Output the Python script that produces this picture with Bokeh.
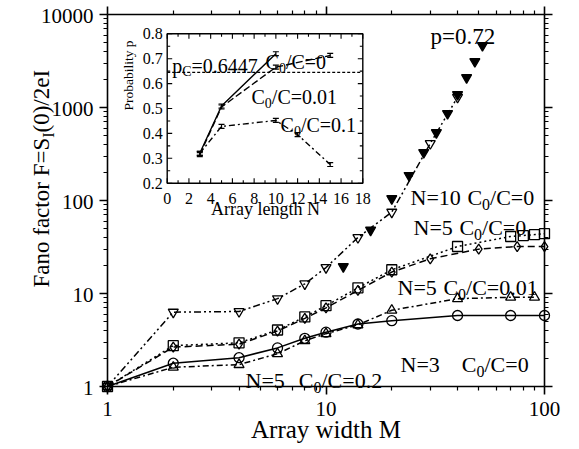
from math import pi
from bokeh.plotting import figure
from bokeh.models import (Range1d, LinearScale, LogAxis, FixedTicker, CustomJSTickFormatter)
from bokeh.core.properties import value
from bokeh.embed import file_html
from bokeh.resources import INLINE

FONT = "Liberation Serif"

# ---------------- data (main panel) ----------------
m_n10 = [1, 2, 4, 6, 8, 10, 14, 20, 30, 40]
f_n10 = [1, 6.3, 6.4, 8.8, 12.7, 19, 40, 75, 410, 1290]

m_p72 = [12, 16, 20, 24, 28, 32, 36, 40, 44, 48, 52]
f_p72 = [19.5, 48, 105, 186, 328, 538, 862, 1380, 2100, 3125, 4640]

m_n5_sq = [1, 2, 4, 6, 8, 10, 14, 20, 40, 70, 80, 90, 100]
f_n5_sq = [1, 2.75, 2.95, 4.05, 5.6, 7.4, 11.5, 18, 32, 41, 42, 43, 44]

m_n5_di = [1, 2, 4, 6, 8, 10, 14, 20, 30, 50, 75, 100]
f_n5_di = [1, 2.65, 2.85, 3.95, 5.4, 7.0, 10.8, 17, 23.6, 30, 32, 32]

m_n3 = [1, 2, 4, 6, 8, 10, 14, 20, 40, 70, 100]
f_n3 = [1, 1.78, 2.04, 2.6, 3.3, 3.84, 4.7, 5.1, 5.8, 5.8, 5.8]

m_n5_c001 = [1, 2, 4, 6, 8, 10, 14, 20, 40, 70, 90]
f_n5_c001 = [1, 1.61, 1.72, 2.25, 3.1, 3.7, 4.6, 6.6, 8.8, 9.1, 9.1]

x_ticks = [1, 10, 100]
y_ticks = [1, 10, 100, 1000, 10000]
x_tick_labels = ["1", "10", "100"]
y_tick_labels = ["1", "10", "100", "1000", "10000"]

# ---------------- data (inset) ----------------
n_c0 = [3, 5, 10]
p_c0 = [0.32, 0.51, 0.72]
n_c001 = [3, 5, 10, 15]
p_c001 = [0.315, 0.506, 0.666, 0.713]
n_c01 = [3, 5, 10, 12, 15]
p_c01 = [0.32, 0.428, 0.452, 0.395, 0.275]
err_c0 = [0.008, 0.008, 0.008]
err_c001 = [0.008, 0.008, 0.008, 0.008]
err_c01 = [0.008, 0.008, 0.008, 0.008, 0.008]
p_crit = 0.6447
inset_x_ticks = [0, 2, 4, 6, 8, 10, 12, 14, 16, 18]
inset_y_ticks = [0.2, 0.3, 0.4, 0.5, 0.6, 0.7, 0.8]

# ---------------- layout (canvas pixels) ----------------
W, H = 578, 448
FL, FR, FT, FB = 107, 544, 14, 386                # main data box
IL, IR, IT, IB = 166.7, 362.3, 33.3, 182.7        # inset box

dx = (FR - FL) / 2.0
dy = (FB - FT) / 4.0
ipu_x = (IR - IL) / 18.0
ipu_y = (IB - IT) / 0.6

p = figure(width=W, height=H, x_axis_type="log", y_axis_type="log",
           x_range=Range1d(10 ** (-FL / dx), 10 ** (2 + (W - FR) / dx)),
           y_range=Range1d(10 ** (-(H - FB) / dy), 10 ** (4 + FT / dy)),
           output_backend="svg", toolbar_location=None, min_border=0)
p.xgrid.visible = False
p.ygrid.visible = False
p.outline_line_color = None
p.background_fill_color = "white"
p.border_fill_color = "white"

p.extra_x_ranges = {"ix": Range1d(0 - IL / ipu_x, 18 + (W - IR) / ipu_x)}
p.extra_y_ranges = {"iy": Range1d(0.2 - (H - IB) / ipu_y, 0.8 + IT / ipu_y)}
p.extra_x_scales = {"ix": LinearScale()}
p.extra_y_scales = {"iy": LinearScale()}

xt = FixedTicker(ticks=x_ticks, minor_ticks=[k * 10 ** d for d in range(2) for k in range(2, 10)])
yt = FixedTicker(ticks=y_ticks, minor_ticks=[k * 10 ** d for d in range(4) for k in range(2, 10)])


def style_axis(ax, ticker, loc, bounds):
    ax.ticker = ticker
    ax.fixed_location = loc
    ax.bounds = bounds
    ax.axis_line_width = 1.6
    ax.axis_line_color = "black"
    ax.major_tick_line_width = 1.6
    ax.minor_tick_line_width = 1.2
    ax.major_tick_out = 8
    ax.major_tick_in = 0
    ax.minor_tick_out = 4
    ax.minor_tick_in = 0
    ax.formatter = CustomJSTickFormatter(code="return ''")
    ax.major_label_standoff = 0


style_axis(p.below[0], xt, y_ticks[0], (x_ticks[0], x_ticks[-1]))
style_axis(p.left[0], yt, x_ticks[0], (y_ticks[0], y_ticks[-1]))
top = LogAxis()
p.add_layout(top, "above")
style_axis(top, xt, y_ticks[-1], (x_ticks[0], x_ticks[-1]))
right = LogAxis()
p.add_layout(right, "right")
style_axis(right, yt, x_ticks[-1], (y_ticks[0], y_ticks[-1]))


def px2main(px, py):
    return 10 ** ((px - FL) / dx), 10 ** ((FB - py) / dy)


# tick labels (serif, as text glyphs at the tick values)
p.text(x=x_ticks, y=[px2main(0, 408.5)[1]] * len(x_ticks), text=x_tick_labels,
       text_font=value(FONT), text_font_size="21px", text_align="center",
       text_baseline="middle", text_color="black")
p.text(x=[px2main(93, 0)[0]] * len(y_ticks), y=y_ticks, text=y_tick_labels,
       text_font=value(FONT), text_font_size="21px", text_align="right",
       text_baseline="middle", text_color="black", y_offset=1)

# ---------------- main series ----------------
def series(M, F, marker, dash, filled=False, line=True):
    if line:
        p.line(M, F, line_color="black", line_width=1.5, line_dash=dash)
    p.scatter(M, F, marker=marker, size=10, line_color="black", line_width=1.3,
              fill_color="black" if filled else None)


series(m_n3, f_n3, "circle", "solid")
series(m_n5_c001, f_n5_c001, "triangle", "6 3 2 3")
series(m_n5_di, f_n5_di, "diamond", "7 4")
series(m_n5_sq, f_n5_sq, "square", "2 3")
series(m_n10, f_n10, "inverted_triangle", "7 3 2 3 2 3")
series(m_p72, f_p72, "inverted_triangle", "solid", filled=True, line=False)

# ---------------- text helpers ----------------
WID = {'N': .722, '=': .564, ' ': .25, 'C': .667, '/': .278, '.': .25, 'p': .5,
       'S': .556, 'I': .333, '(': .333, ')': .333, 'e': .444, 'F': .556, 'a': .444,
       'n': .5, 'o': .5, 'f': .333, 'c': .444, 't': .278, 'r': .333}


def twidth(s, size):
    return sum(WID.get(c, 0.5) for c in s) * size


def put(txt, px, py, size, angle=0.0, align="left", baseline="alphabetic"):
    x, y = px2main(px, py)
    p.text(x=[x], y=[y], text=[txt], text_font=value(FONT), text_font_size=f"{size}px",
           text_align=align, text_baseline=baseline, angle=angle, text_color="black")


def rich(pieces, px, py, angle=0.0):
    # pieces: (text, size, shift) ; text None means a gap of `size` pixels
    pos = 0.0
    for txt, size, sh in pieces:
        if txt is None:
            pos += size
            continue
        if angle == 0:
            put(txt, px + pos, py + sh, size)
        else:
            put(txt, px + sh, py - pos, size, angle=angle)
        pos += twidth(txt, size)


def c0c(n, val, px, py, gap=6.6, size=22, sub=16):
    rich([(n, size, 0), (None, gap, 0), ("C", size, 0), ("0", sub, 7),
          ("/C=" + val, size, 0)], px, py)


rich([("p=0.72", 23, 0)], 430, 36)
c0c("N=10", "0", 410, 197)
c0c("N=5", "0", 413, 227)
c0c("N=5", "0.01", 397, 287)
c0c("N=3", "0", 400, 364, gap=22)
c0c("N=5", "0.2", 245, 380, gap=14)

# axis titles
rich([("Fano factor F=S", 23, 0), ("I", 16, 7), ("(0)/2eI", 23, 0)], 41, 287, angle=pi / 2)
put("Array width M", 325.5, 429, 25, align="center", baseline="middle")

# ---------------- inset ----------------
IK = dict(x_range_name="ix", y_range_name="iy")
p.quad(left=[inset_x_ticks[0]], right=[inset_x_ticks[-1]],
       bottom=[inset_y_ticks[0]], top=[inset_y_ticks[-1]],
       fill_color="white", line_color="black", line_width=1.4, **IK)

tl_y = 5 / ipu_y
tl_x = 5 / ipu_x
x0, x1 = inset_x_ticks[0], inset_x_ticks[-1]
y0, y1 = inset_y_ticks[0], inset_y_ticks[-1]
maj_x = inset_x_ticks
min_x = [v + 1 for v in inset_x_ticks[:-1]]
maj_y = inset_y_ticks
min_y = [v + 0.05 for v in inset_y_ticks[:-1]]
for xs, ln in ((maj_x, tl_y), (min_x, tl_y * 0.6)):
    p.segment(x0=xs, y0=[y0] * len(xs), x1=xs, y1=[y0 + ln] * len(xs), line_color="black", line_width=1.1, **IK)
    p.segment(x0=xs, y0=[y1] * len(xs), x1=xs, y1=[y1 - ln] * len(xs), line_color="black", line_width=1.1, **IK)
for ys, ln in ((maj_y, tl_x), (min_y, tl_x * 0.6)):
    p.segment(x0=[x0] * len(ys), y0=ys, x1=[x0 + ln] * len(ys), y1=ys, line_color="black", line_width=1.1, **IK)
    p.segment(x0=[x1] * len(ys), y0=ys, x1=[x1 - ln] * len(ys), y1=ys, line_color="black", line_width=1.1, **IK)

p.text(x=inset_x_ticks, y=[y0 - 15 / ipu_y] * len(inset_x_ticks),
       text=[str(v) for v in inset_x_ticks], text_font=value(FONT), text_font_size="16px",
       text_align="center", text_baseline="middle", text_color="black", **IK)
p.text(x=[x0 - 4.5 / ipu_x] * len(inset_y_ticks), y=inset_y_ticks,
       text=[f"{v:.1f}" for v in inset_y_ticks], text_font=value(FONT), text_font_size="16px",
       text_align="right", text_baseline="middle", text_color="black", **IK)

p.segment(x0=[x0], y0=[p_crit], x1=[x1], y1=[p_crit], line_color="black",
          line_width=1.2, line_dash="3 2", **IK)


def iseries(N, P, E, dash):
    p.line(N, P, line_color="black", line_width=1.4, line_dash=dash, **IK)
    lo = [a - b for a, b in zip(P, E)]
    hi = [a + b for a, b in zip(P, E)]
    p.segment(x0=N, y0=lo, x1=N, y1=hi, line_color="black", line_width=1.2, **IK)
    p.scatter(N, lo, marker="dash", size=6, line_color="black", line_width=1.2, **IK)
    p.scatter(N, hi, marker="dash", size=6, line_color="black", line_width=1.2, **IK)


iseries(n_c0, p_c0, err_c0, "solid")
iseries(n_c001, p_c001, err_c001, "7 3")
iseries(n_c01, p_c01, err_c01, "6 3 2 3")


def ipx(n, v):
    return IL + n * ipu_x, IB - (v - 0.2) * ipu_y


rich([("p", 20, 0), ("C", 14, 5), ("=0.6447", 20, 0)], *ipx(0.46, 0.669))
rich([("C", 20, 0), ("0", 14, 6), ("/C=0", 20, 0)], *ipx(9.05, 0.686))
rich([("C", 20, 0), ("0", 14, 6), ("/C=0.01", 20, 0)], *ipx(7.76, 0.545))
rich([("C", 20, 0), ("0", 14, 6), ("/C=0.1", 20, 0)], *ipx(10.43, 0.432))

put("Probability p", 128, 75, 13.5, angle=pi / 2, align="center", baseline="middle")
put("Array length N", 265, 208, 18, align="center", baseline="middle")

open("out.html", "w").write(file_html(p, INLINE))
